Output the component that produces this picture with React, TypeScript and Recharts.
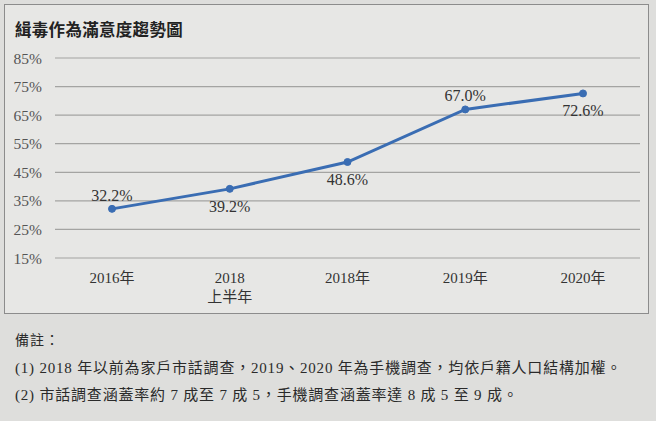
import { LineChart, Line, XAxis, YAxis, CartesianGrid, LabelList } from 'recharts';

const categories = ['2016年', '2018\n上半年', '2018年', '2019年', '2020年'];
const satisfaction = [32.2, 39.2, 48.6, 67.0, 72.6];
const labelAbove = [true, false, false, true, false];
const yTicks = [15, 25, 35, 45, 55, 65, 75, 85];

const title = '緝毒作為滿意度趨勢圖';
const notes = [
  '備註：',
  '(1) 2018 年以前為家戶市話調查，2019、2020 年為手機調查，均依戶籍人口結構加權。',
  '(2) 市話調查涵蓋率約 7 成至 7 成 5，手機調查涵蓋率達 8 成 5 至 9 成。',
];

const data = categories.map((name, i) => ({ name, value: satisfaction[i] }));

const serif = "'Liberation Serif', 'Times New Roman', 'DejaVu Serif', 'Noto Sans CJK TC', serif";

const CategoryTick = ({ x, y, payload }: any) => {
  const lines = String(payload.value).split('\n');
  return (
    <g>
      {lines.map((l, i) => (
        <text key={i} x={x} y={y + 23 + i * 19} textAnchor="middle" style={{ fontFamily: serif, fontSize: 15 }} fill="#333">
          {l}
        </text>
      ))}
    </g>
  );
};

const ValueLabel = ({ x, y, value, index }: any) => {
  const up = labelAbove[index];
  return (
    <text x={x} y={up ? y - 8 : y + 23} textAnchor="middle" style={{ fontFamily: serif, fontSize: 16 }} fill="#333">
      {value.toFixed(1)}%
    </text>
  );
};

const App = () => {
  return (
    <div style={{ position: 'absolute', left: 0, top: 0, width: 656, height: 421, background: '#dededc', overflow: 'hidden' }}>
      <div style={{ position: 'absolute', left: 4, top: 4, width: 643, height: 308, border: '1.5px solid #8c8c8c', background: '#e7e7e5' }} />
      <div style={{ position: 'absolute', left: 15, top: 17, fontSize: 16.5, fontWeight: 'bold', color: '#222', fontFamily: "'Noto Sans CJK TC', sans-serif", letterSpacing: 0.3 }}>
        {title}
      </div>
      <div style={{ position: 'absolute', left: 0, top: 0 }}>
        <LineChart width={656} height={310} data={data} margin={{ top: 58, right: 16, left: 0, bottom: 2 }}>
          <CartesianGrid vertical={false} stroke="#a4a4a2" strokeWidth={1.2} />
          <XAxis
            dataKey="name"
            axisLine={false}
            tickLine={false}
            tickSize={0}
            height={50}
            padding={{ left: 57, right: 57 }}
            interval={0}
            tick={<CategoryTick />}
          />
          <YAxis
            domain={[15, 85]}
            ticks={yTicks}
            width={55}
            axisLine={false}
            tickLine={false}
            tickSize={0}
            tickMargin={13}
            tickFormatter={(v) => `${v}%`}
            tick={{ fontSize: 15.5, fill: '#555', style: { fontFamily: serif } }}
          />
          <Line
            type="linear"
            dataKey="value"
            stroke="#3a6db3"
            strokeWidth={3}
            dot={{ r: 3.5, fill: '#3a6db3', stroke: '#3a6db3', strokeWidth: 1 }}
            isAnimationActive={false}
          >
            <LabelList dataKey="value" content={<ValueLabel />} />
          </Line>
        </LineChart>
      </div>
      <div style={{ position: 'absolute', left: 15, top: 327, color: '#2a2a2a', fontFamily: serif, fontSize: 15 }}>
        {notes.map((n, i) => (
          <div key={i} style={{ height: 27.5, lineHeight: '27.5px', letterSpacing: i === 0 ? 1 : 0.8, fontSize: i === 0 ? 14 : 15 }}>
            {n}
          </div>
        ))}
      </div>
    </div>
  );
};

export default App;
